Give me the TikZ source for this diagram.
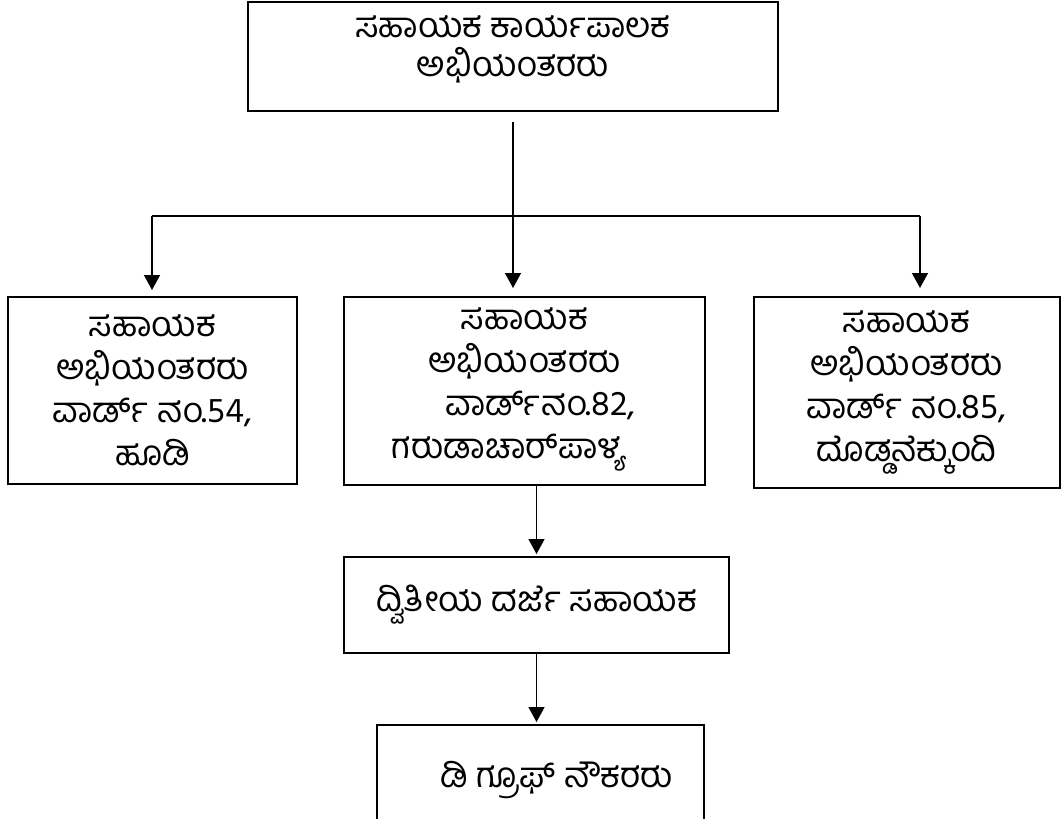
\documentclass[tikz,border=0pt]{standalone}
\usepackage{fontspec}
\newfontfamily\kn[Script=Kannada]{Hind Mysuru}
\usetikzlibrary{arrows.meta,calc}
\begin{document}
\begin{tikzpicture}[x=1pt,y=-1pt,
  box/.style={draw=black,line width=2pt,rectangle,inner sep=0pt,align=center,
    font=\kn\fontsize{35}{43}\selectfont},
  conn/.style={draw=black,line width=1.5pt},
  arr/.style={conn,-{Triangle[length=15pt,width=16pt]}},
  lbl/.style={inner sep=0pt,align=center,font=\kn\fontsize{35}{43}\selectfont}]
\useasboundingbox[fill=white] (0,0) rectangle (1061,819);
% boxes
\node[box,minimum width=530pt,minimum height=109pt] (top) at (513,56.5) {};
\node[lbl,font=\kn\fontsize{35}{39}\selectfont] (toptext) at (513,49) {ಸಹಾಯಕ ಕಾರ್ಯಪಾಲಕ\\ಅಭಿಯಂತರರು};
\node[box,minimum width=289pt,minimum height=187pt] (left) at (152.5,390.5)
  {ಸಹಾಯಕ\\ಅಭಿಯಂತರರು\\ವಾರ್ಡ್^^^^200c ನಂ.54,\\ಹೂಡಿ};
\node[box,minimum width=361pt,minimum height=188pt] (mid) at (524.5,391) {};
\node[lbl] (midtext) at (524.5,389)
  {ಸಹಾಯಕ\\ಅಭಿಯಂತರರು\\\hspace*{0.9em}ವಾರ್ಡ್^^^^200cನಂ.82,\\ಗರುಡಾಚಾರ್^^^^200cಪಾಳ್ಯ\hspace*{0.9em}};
\node[box,minimum width=306pt,minimum height=191pt] (right) at (906.5,392.5)
  {ಸಹಾಯಕ\\ಅಭಿಯಂತರರು\\ವಾರ್ಡ್^^^^200c ನಂ.85,\\ದೊಡ್ಡನೆಕ್ಕುಂದಿ};
\node[box,minimum width=385pt,minimum height=96pt] (second) at (536.5,605)
  {ದ್ವಿತೀಯ ದರ್ಜೆ ಸಹಾಯಕ};
\node[box,minimum width=327pt,minimum height=200pt] (bottom) at (540.5,825) {};
\node[lbl] (bottomtext) at (557,780) {ಡಿ ಗ್ರೂಫ್ ನೌಕರರು};
% connectors
\coordinate (tstart) at (513,122);
\coordinate (j) at (513,216);
\coordinate (jl) at (152,216);
\coordinate (jr) at (920,216);
\draw[conn] (tstart) -- (j);
\draw[conn] (jl) -- (jr);
\draw[arr,shorten >=6pt] (jl) -- (jl |- left.north);
\draw[arr,shorten >=8pt] (j) -- (j |- mid.north);
\draw[arr,shorten >=8pt] (jr) -- (jr |- right.north);
\draw[arr,shorten >=2pt] (second.north |- mid.south) -- (second.north);
\draw[arr,shorten >=2pt] (second.south) -- (second.south |- bottom.north);
\end{tikzpicture}
\end{document}
